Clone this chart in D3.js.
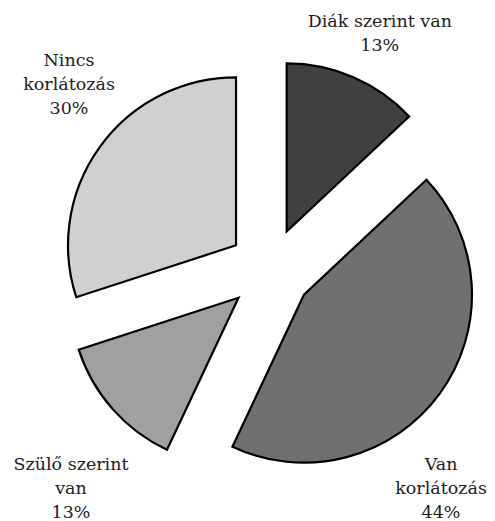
<!DOCTYPE html>
<html>
<head>
<meta charset="utf-8">
<script src="https://cdn.jsdelivr.net/npm/d3@7"></script>
<style>
  body { margin: 0; background: #fff; }
  svg { display: block; }
  .lbl { font-family: "DejaVu Serif", "Liberation Serif", "Noto Serif", "Times New Roman", Times, FreeSerif, serif; }
</style>
</head>
<body>
<svg id="pie_svg" width="495" height="521"></svg>
<script>
// slices, clockwise from 12 o'clock
const labels = [["Diák szerint van"], ["Van", "korlátozás"], ["Szülő szerint", "van"], ["Nincs", "korlátozás"]]
const values = [13, 44, 13, 30]
const colors = ["#404040", "#707070", "#a0a0a0", "#d0d0d0"]
// label placement (polar, relative to pie centre): angle in degrees, distance in px, to first baseline
const labelAngle = [24.4, 139.6, 224.7, 315.3]
const labelDist = [265.8, 263.9, 282.9, 285.7]

const svg = d3.select("#pie_svg")
const cx = 270, cy = 270
const radius = 168
const explode = 42

const pie = d3.pie().sort(null).value((d) => d)
const arcs = pie(values)
const arc = d3.arc().innerRadius(0).outerRadius(radius)

const g = svg.append("g").attr("transform", `translate(${cx},${cy})`)

g.selectAll(".slice").data(arcs).enter().append("path")
  .attr("class", "slice")
  .attr("d", arc)
  .attr("transform", (d) => {
    const a = (d.startAngle + d.endAngle) / 2
    return `translate(${explode * Math.sin(a)},${-explode * Math.cos(a)})`
  })
  .attr("fill", (d, i) => colors[i])
  .attr("stroke", "#000")
  .attr("stroke-width", 2.2)
  .attr("stroke-linejoin", "miter")

// labels
const lineH = 24
const lbl = g.selectAll(".lbl").data(arcs).enter().append("text")
  .attr("class", "lbl")
  .attr("text-anchor", "middle")
  .attr("font-size", 17.5)
  .attr("fill", "#222")
  .attr("transform", (d, i) => {
    const a = labelAngle[i] * Math.PI / 180
    return `translate(${labelDist[i] * Math.sin(a)},${-labelDist[i] * Math.cos(a) - 1})`
  })

lbl.each(function (d, i) {
  const lines = labels[i].concat([values[i] + "%"])
  const t = d3.select(this)
  lines.forEach((s, k) => {
    t.append("tspan").attr("x", 0).attr("y", k * lineH).text(s)
  })
})
</script>
</body>
</html>
